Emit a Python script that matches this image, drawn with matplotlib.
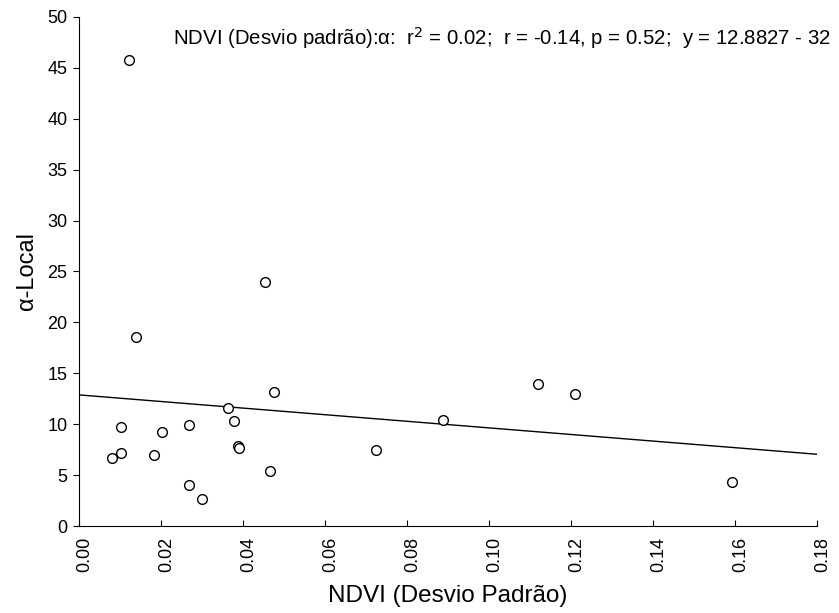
import numpy as np
import matplotlib.pyplot as plt
import matplotlib.transforms as mtransforms

plt.rcParams['font.family'] = ['Liberation Sans', 'DejaVu Sans']

# NDVI desvio padrão vs alfa local
ndvi_sd = [0.0122, 0.0141, 0.0082, 0.0103, 0.0104, 0.0185, 0.0203, 0.0269,
           0.0270, 0.0300, 0.0365, 0.0380, 0.0390, 0.0392, 0.0467, 0.0476,
           0.0455, 0.0725, 0.0889, 0.1120, 0.1210, 0.1595]
alpha_local = [45.8, 18.6, 6.65, 7.17, 9.7, 6.97, 9.2, 9.89,
               4.03, 2.68, 11.56, 10.31, 7.86, 7.66, 5.43, 13.13,
               24.0, 7.5, 10.38, 13.95, 12.97, 4.32]

intercept = 12.8827
slope = -32.4
x_ticks = [0.00, 0.02, 0.04, 0.06, 0.08, 0.10, 0.12, 0.14, 0.16, 0.18]
y_ticks = [0, 5, 10, 15, 20, 25, 30, 35, 40, 45, 50]

fig = plt.figure(figsize=(8.39, 6.13), dpi=100)
ax = fig.add_axes([0.0936, 0.1419, 0.8796, 0.8304])

xl = np.array([0.0, 0.18])
ax.plot(xl, intercept + slope * xl, color='black', linewidth=1.0)
ax.plot(ndvi_sd, alpha_local, 'o', markerfacecolor='white', markeredgecolor='black',
        markersize=7, markeredgewidth=1.0, linestyle='none')

ax.set_xlim(0, 0.18)
ax.set_ylim(0, 50)
ax.set_xticks(x_ticks)
ax.set_xticklabels(['%.2f' % v for v in x_ticks], rotation=90)
ax.set_yticks(y_ticks)
ax.tick_params(axis='x', direction='in', length=4, labelsize=13, pad=8)
ax.tick_params(axis='y', direction='out', length=4, labelsize=13, pad=4)
for s in ['top', 'right']:
    ax.spines[s].set_visible(False)

# labels do eixo x deslocados um pouco para a direita
offset = mtransforms.ScaledTranslation(6 / 100, 0, fig.dpi_scale_trans)
for lab in ax.get_xticklabels():
    lab.set_transform(lab.get_transform() + offset)

ax.set_xlabel('NDVI (Desvio Padrão)', fontsize=17.5, va='center')
ax.xaxis.set_label_coords(0.5, -0.1375)
ax.set_ylabel('α-Local', fontsize=17, va='center')
ax.yaxis.set_label_coords(-0.07, 0.5)

fig.text(173 / 839, 1 - 38 / 613,
         'NDVI (Desvio padrão):α:  r$^2$ = 0.02;  r = -0.14, p = 0.52;  y = 12.8827 - 32',
         fontsize=14.7, va='center', ha='left')

plt.savefig('out.png', dpi=100)
